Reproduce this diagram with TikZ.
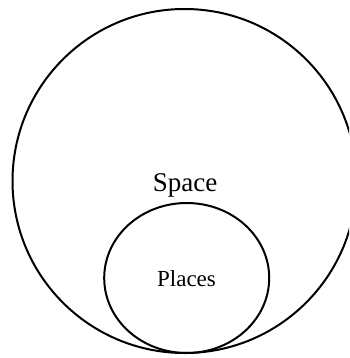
\documentclass[tikz,border=0pt]{standalone}
\usepackage{fontspec}
\setmainfont{Liberation Serif}
\usetikzlibrary{shapes.geometric}

\begin{document}
\begin{tikzpicture}[
    x=1pt, y=-1pt,
    % --- Set styles ---
    setline/.style={draw, line width=2pt, inner sep=0pt},
    bigset/.style={setline, circle, minimum size=344pt},
    subset/.style={setline, ellipse, minimum width=165pt, minimum height=150pt},
    % --- Text styles ---
    setlabel/.style={anchor=base, inner sep=0pt},
]

% frame of the page
\useasboundingbox (0,0) rectangle (349,358);
\clip (0,0) rectangle (349,358);

% =============================================
% SETS
% =============================================

\node[bigset] (space) at (184.5, 181) {};
\node[subset] (places) at (186.7, 278) {};

% =============================================
% LABELS
% =============================================

\node[setlabel, font=\fontsize{27}{30}\selectfont] (spacetxt) at (185, 191) {Space};
\node[setlabel, font=\fontsize{23}{26}\selectfont] (placestxt) at (186.5, 286) {Places};

\end{tikzpicture}
\end{document}
